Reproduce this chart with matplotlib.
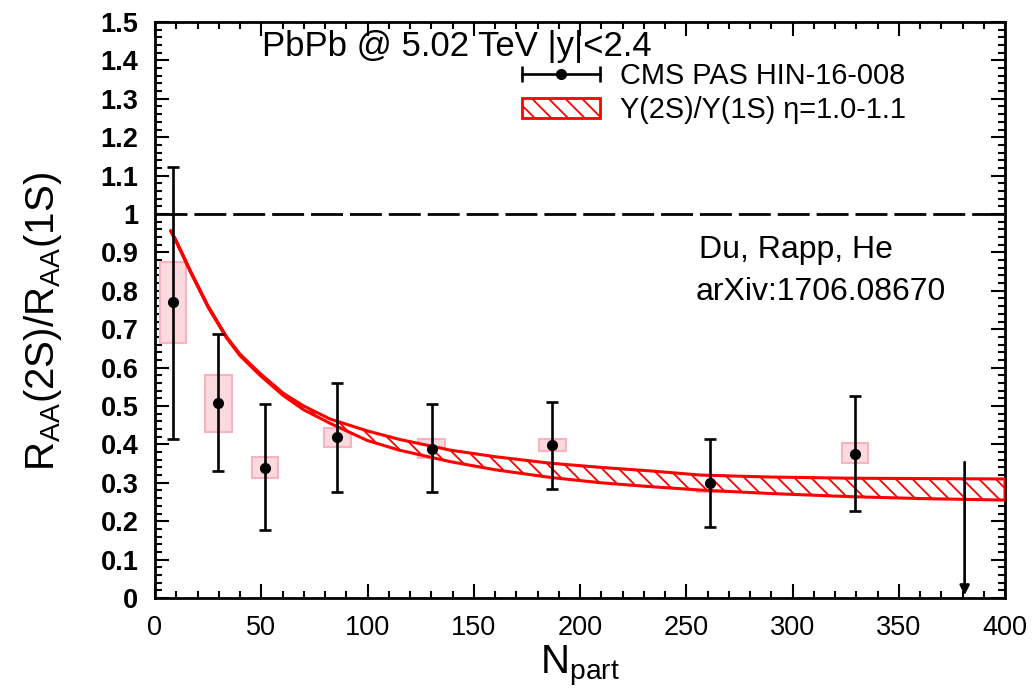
import numpy as np
import matplotlib
matplotlib.use('Agg')
import matplotlib.pyplot as plt
from matplotlib.lines import Line2D
from matplotlib.patches import Patch
from matplotlib.legend_handler import HandlerLine2D

# CMS data points
npart = np.array([8.5, 29.8, 51.8, 85.8, 130.2, 187.0, 261.2, 329.4])
ratio = np.array([0.771, 0.507, 0.338, 0.420, 0.387, 0.398, 0.300, 0.374])
stat_hi = np.array([1.123, 0.687, 0.504, 0.561, 0.504, 0.511, 0.413, 0.526])
stat_lo = np.array([0.414, 0.331, 0.177, 0.276, 0.275, 0.283, 0.186, 0.227])
sys_hi = np.array([0.874, 0.582, 0.368, 0.442, 0.414, 0.414, 0.320, 0.403])
sys_lo = np.array([0.663, 0.433, 0.312, 0.392, 0.364, 0.384, 0.277, 0.351])

# upper limit (most central bin)
ul_npart = 381
ul_value = 0.361

# theory band, Du/Rapp/He
band_npart = np.array([7.4, 10, 16.5, 25, 33.7, 40, 49.4, 60.4, 70, 82.4, 100, 115,
                       139, 160, 186, 210, 233, 257, 290, 327, 360, 400])
band_hi = np.array([0.957, 0.930, 0.854, 0.760, 0.680, 0.635, 0.585, 0.533, 0.500, 0.466,
                    0.435, 0.413, 0.385, 0.368, 0.351, 0.340, 0.331, 0.320, 0.315, 0.312,
                    0.311, 0.310])
band_lo = np.array([0.955, 0.928, 0.851, 0.757, 0.677, 0.631, 0.580, 0.527, 0.490, 0.455,
                    0.410, 0.385, 0.355, 0.334, 0.314, 0.300, 0.290, 0.281, 0.272, 0.264,
                    0.259, 0.255])


def main():
	plt.rcParams['font.family'] = ['Liberation Sans', 'DejaVu Sans']
	plt.rcParams['mathtext.fontset'] = 'custom'
	plt.rcParams['mathtext.rm'] = 'Liberation Sans'
	plt.rcParams['mathtext.default'] = 'regular'
	plt.rcParams['hatch.linewidth'] = 1.3

	fig = plt.figure(figsize=(10.35, 6.94), dpi=100)
	ax = fig.add_axes([155/1035, 1-598/694, 850/1035, 576/694])

	# systematic boxes
	ax.bar(npart, sys_hi - sys_lo, bottom=sys_lo, width=12.6, color='#fcd9df',
		edgecolor='#f7b3bf', linewidth=1.5, zorder=2)

	# theory band
	ax.fill_between(band_npart, band_lo, band_hi, facecolor='white', edgecolor='red',
		hatch='\\\\', linewidth=2.2, zorder=3)

	ax.axhline(1.0, color='k', lw=2, dashes=(11.5, 2.5), zorder=1)

	ax.errorbar(npart, ratio, yerr=[ratio - stat_lo, stat_hi - ratio], fmt='o', color='k',
		ms=7, lw=1.9, capsize=4, capthick=1.9, zorder=4)

	ax.annotate('', xy=(ul_npart, 0), xytext=(ul_npart, ul_value),
		arrowprops=dict(arrowstyle='-|>', color='k', lw=1.9, mutation_scale=14), zorder=4)

	ax.set_xlim(0, 400)
	ax.set_ylim(0, 1.5)
	ax.set_xticks(np.arange(0, 401, 50))
	ax.set_xticks(np.arange(0, 401, 10), minor=True)
	ax.set_yticks(np.arange(0, 1.51, 0.1))
	ax.set_yticks(np.arange(0, 1.51, 0.02), minor=True)
	ax.set_yticklabels(['0'] + ['%.1f' % v for v in np.arange(0.1, 0.95, 0.1)] + ['1'] +
		['%.1f' % v for v in np.arange(1.1, 1.55, 0.1)], fontweight='bold')
	ax.tick_params(which='both', direction='in', top=True, right=True, width=1.5)
	ax.tick_params(which='major', length=10, labelsize=19.5, pad=12)
	ax.tick_params(which='minor', length=5)
	for s in ax.spines.values():
		s.set_linewidth(2)

	ax.set_xlabel('N$_{part}$', fontsize=29)
	ax.xaxis.set_label_coords(0.5, -0.078)
	ax.xaxis.label.set_va('top')
	ax.set_ylabel('R$_{AA}$(2S)/R$_{AA}$(1S)', fontsize=29)
	ax.yaxis.set_label_coords(-0.107, 0.48)

	ax.text(0.126, 0.941, 'PbPb @ 5.02 TeV |y|<2.4', transform=ax.transAxes, fontsize=25)
	ax.text(0.64, 0.590, 'Du, Rapp, He', transform=ax.transAxes, fontsize=23)
	ax.text(0.636, 0.517, 'arXiv:1706.08670', transform=ax.transAxes, fontsize=23)

	# legend
	bar_h = Line2D([], [], color='k', lw=1.9, marker='|', ms=12, mew=1.9)
	dot_h = Line2D([], [], color='k', lw=0, marker='o', ms=7)
	band_h = Patch(facecolor='white', edgecolor='red', hatch='\\\\', lw=2)
	ax.legend([(bar_h, dot_h), band_h], ['CMS PAS HIN-16-008', 'Y(2S)/Y(1S) \u03b7=1.0-1.1'],
		loc='upper left', bbox_to_anchor=(0.432, 0.93), frameon=False, fontsize=20.8,
		handler_map={bar_h: HandlerLine2D(numpoints=2, marker_pad=0),
			dot_h: HandlerLine2D(numpoints=1)}, handlelength=2.7,
		handletextpad=0.7, labelspacing=0.2, borderpad=0, borderaxespad=0)

	plt.savefig('out.png', dpi=100)


if __name__ == "__main__":
	main()
